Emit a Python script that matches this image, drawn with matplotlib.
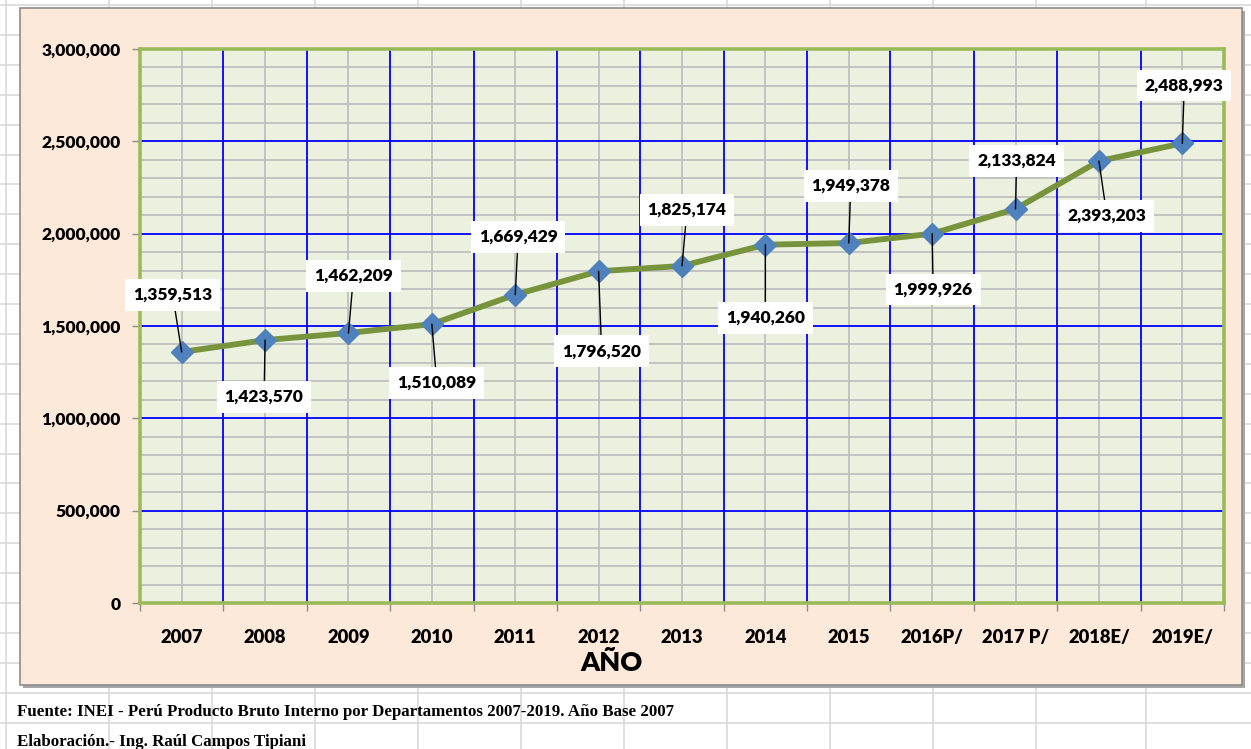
import matplotlib
matplotlib.use("Agg")
import matplotlib.pyplot as plt
import matplotlib.ticker as mticker
from matplotlib.patches import Rectangle
from matplotlib.lines import Line2D
import numpy as np

# ---- data ----
years = ["2007", "2008", "2009", "2010", "2011", "2012", "2013",
         "2014", "2015", "2016P/", "2017 P/", "2018E/", "2019E/"]
pbi = [1359513, 1423570, 1462209, 1510089, 1669429, 1796520, 1825174,
       1940260, 1949378, 1999926, 2133824, 2393203, 2488993]
x_title = "AÑO"
source_text = "Fuente: INEI - Perú Producto Bruto Interno por Departamentos 2007-2019. Año Base 2007"
author_text = "Elaboración.- Ing. Raúl Campos Tipiani"

# label offsets (pixels) relative to each point
label_dx = [-9, -1, 5, 5, 3, 3, 5, 0, 2, 1, 1, 8, 2]
label_dy = [57, -57, 57, -59, 58, -80, 56, -73, 57, -56, 48, -55, 58]

W, H = 1251, 749
fig = plt.figure(figsize=(W / 100, H / 100), dpi=100)
fig.patch.set_facecolor("white")

def fx(x):
    return x / W

def fy(y):
    return 1 - y / H

# spreadsheet grid in background
sheet_col = "#D9D9D9"
for r in range(0, 26):
    yy = 5 + 29.9 * r
    fig.add_artist(Line2D([0, 1], [fy(yy), fy(yy)], color=sheet_col, lw=1.2, zorder=0))
for cx in [6, 109, 212, 315, 418, 521, 624, 727, 830, 933, 1036, 1146]:
    fig.add_artist(Line2D([fx(cx), fx(cx)], [0, 1], color=sheet_col, lw=1.2, zorder=0))

# chart frame (shadow + peach area)
fig.add_artist(Rectangle((fx(23), fy(688)), fx(1245) - fx(23), fy(11) - fy(688),
                         facecolor="#A6A6A6", edgecolor="none", zorder=0.5))
fig.add_artist(Rectangle((fx(20), fy(685)), fx(1242) - fx(20), fy(8) - fy(685),
                         facecolor="#FDE9D9", edgecolor="#8C8C8C", lw=1.2, zorder=0.6))

# plot area
L, R, T, B = 140, 1224, 49, 603
ax = fig.add_axes([fx(L), fy(B), fx(R) - fx(L), fy(T) - fy(B)], zorder=1)
ax.set_facecolor("#EBF1DE")

xpos = np.arange(len(years))
ax.set_xlim(-0.5, len(years) - 0.5)
ax.set_ylim(0, 3000000)

# gridlines
for yv in np.arange(100000, 3000000, 100000):
    if yv % 500000:
        ax.axhline(yv, color="#BFBFBF", lw=1.3, zorder=0.5)
for xv in xpos:
    ax.axvline(xv, color="#BFBFBF", lw=1.3, zorder=0.5)
for yv in np.arange(500000, 3000000, 500000):
    ax.axhline(yv, color="#0000FF", lw=1.3, zorder=0.7)
for xv in xpos[:-1] + 0.5:
    ax.axvline(xv, color="#0000FF", lw=1.3, zorder=0.7)

ax.plot(xpos, pbi, color="#77933C", lw=4.2, zorder=2, solid_capstyle="round")
ax.plot(xpos, pbi, linestyle="none", marker="D", ms=11.5, color="#4F81BD",
        markeredgecolor="#4F81BD", zorder=2.5)

font = "Lato"
wt = 800
for i, v in enumerate(pbi):
    ax.annotate(f"{v:,.0f}", xy=(xpos[i], v), xytext=(label_dx[i], label_dy[i]),
                textcoords="offset pixels", ha="center", va="center",
                fontsize=12.5, fontweight=wt, family=font, color="black",
                bbox=dict(boxstyle="square,pad=0.45", facecolor="white", edgecolor="none"),
                arrowprops=dict(arrowstyle="-", color="black", lw=1.0,
                                shrinkA=0, shrinkB=0),
                zorder=3)

# ticks
ax.yaxis.set_major_locator(mticker.MultipleLocator(500000))
ax.yaxis.set_major_formatter(mticker.FuncFormatter(lambda v, p: f"{v:,.0f}"))
ax.tick_params(axis="y", which="major", length=6, width=1, color="#8C8C8C",
               pad=8, labelsize=12.5)
ax.set_xticks(xpos)
ax.set_xticklabels(years)
ax.set_xticks(np.arange(-0.5, len(years), 1.0), minor=True)
ax.tick_params(axis="x", which="major", length=0, pad=19, labelsize=13.2)
ax.tick_params(axis="x", which="minor", length=6, width=1, color="#8C8C8C")
for lab in ax.get_xticklabels() + ax.get_yticklabels():
    lab.set_fontweight(wt)
    lab.set_family(font)

for s in ax.spines.values():
    s.set_color("#9BBB59")
    s.set_linewidth(2.6)

fig.text(fx(611), fy(663), x_title, ha="center", va="center", fontsize=19.5,
         fontweight=wt, family=font)

fig.text(fx(17), fy(716), source_text, ha="left", va="baseline", fontsize=12.2,
         fontweight="bold", family="Liberation Serif")
fig.text(fx(17), fy(746), author_text, ha="left", va="baseline", fontsize=12.2,
         fontweight="bold", family="Liberation Serif")

fig.savefig("out.png", dpi=100, facecolor="white")
